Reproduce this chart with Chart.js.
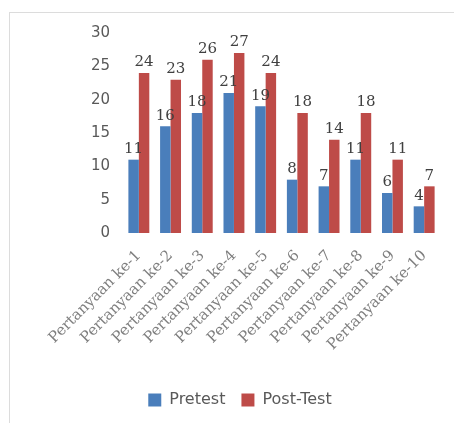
<!DOCTYPE html>
<html>
<head>
<meta charset="utf-8">
<script src="https://cdn.jsdelivr.net/npm/chart.js@4"></script>
<style>
  html,body{margin:0;padding:0;background:#fff;}
  #wrap{position:relative;width:454px;height:423px;overflow:hidden;}
  #frame{position:absolute;left:9px;top:12px;width:460px;height:430px;border-top:1px solid #dcdcdc;border-left:1px solid #dcdcdc;}
  canvas{position:absolute;left:0;top:0;}
</style>
</head>
<body>
<div id="wrap">
  <div id="frame"></div>
  <canvas id="c" width="454" height="423"></canvas>
</div>
<script>
const categories = ["Pertanyaan ke-1","Pertanyaan ke-2","Pertanyaan ke-3","Pertanyaan ke-4","Pertanyaan ke-5","Pertanyaan ke-6","Pertanyaan ke-7","Pertanyaan ke-8","Pertanyaan ke-9","Pertanyaan ke-10"];
const pretest = [11,16,18,21,19,8,7,11,6,4];
const postTest = [24,23,26,27,24,18,14,18,11,7];
const seriesNames = ["Pretest","Post-Test"];
const yTicks = [0,5,10,15,20,25,30];

const valueLabels = {
  id: 'valueLabels',
  afterDatasetsDraw(chart) {
    const ctx = chart.ctx;
    ctx.save();
    ctx.font = '15px "DejaVu Serif"';
    ctx.fillStyle = '#404040';
    ctx.textAlign = 'center';
    ctx.textBaseline = 'bottom';
    chart.data.datasets.forEach((ds, i) => {
      chart.getDatasetMeta(i).data.forEach((el, j) => {
        ctx.fillText(String(ds.data[j]), el.x, el.y - 3);
      });
    });
    ctx.restore();
  }
};

const legendShift = {
  id: 'legendShift',
  afterLayout(chart) {
    if (chart.legend) { chart.legend.left += 20; chart.legend.right += 20; }
  }
};

new Chart(document.getElementById('c'), {
  type: 'bar',
  data: {
    labels: categories,
    datasets: [
      { label: seriesNames[0], data: pretest, backgroundColor: '#4a7ebb', categoryPercentage: 0.66, barPercentage: 1.0 },
      { label: seriesNames[1], data: postTest, backgroundColor: '#be4b48', categoryPercentage: 0.66, barPercentage: 1.0 }
    ]
  },
  options: {
    responsive: false,
    animation: false,
    layout: { padding: { top: 33, right: 14, bottom: 5, left: 0 } },
    plugins: {
      tooltip: { enabled: false },
      legend: {
        position: 'bottom',
        labels: {
          font: { family: 'DejaVu Sans', size: 16 },
          color: '#595959',
          boxWidth: 13,
          boxHeight: 13,
          padding: 16
        }
      }
    },
    scales: {
      x: {
        grid: { display: false, drawTicks: false },
        border: { display: false },
        ticks: {
          font: { family: 'DejaVu Serif', size: 15 },
          color: '#7f7f7f',
          minRotation: 45,
          maxRotation: 45,
          autoSkip: false,
          padding: 14
        },
        afterFit(scale) { scale.height = 143; }
      },
      y: {
        min: 0,
        max: 30,
        afterBuildTicks(scale) { scale.ticks = yTicks.map(v => ({ value: v })); },
        grid: { display: false, drawTicks: false },
        border: { display: false },
        ticks: {
          font: { family: 'DejaVu Sans', size: 15 },
          color: '#595959',
          padding: 13
        },
        afterFit(scale) { scale.width = 123; }
      }
    }
  },
  plugins: [valueLabels, legendShift]
});
</script>
</body>
</html>
